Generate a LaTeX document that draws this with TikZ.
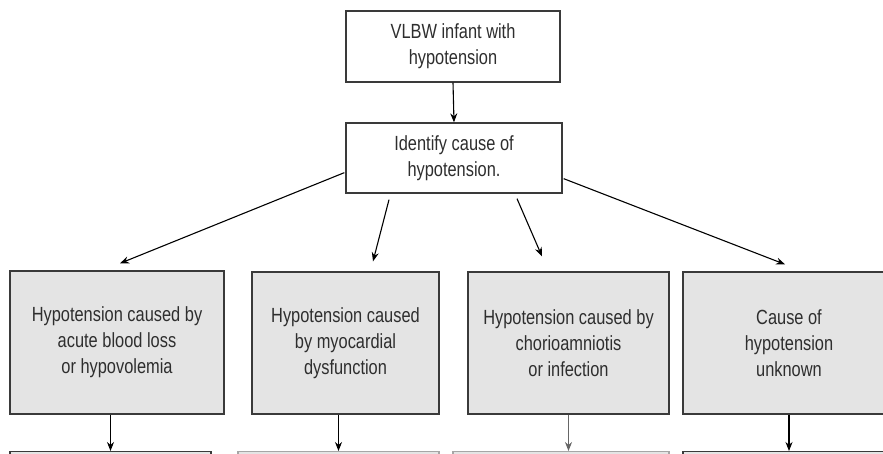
\documentclass[tikz,border=0pt]{standalone}
\usepackage{fontspec}
\setmainfont[FakeStretch=0.8]{Liberation Sans}
\usetikzlibrary{arrows.meta}
\definecolor{boxfill}{HTML}{E4E4E4}
\definecolor{boxline}{HTML}{3A3A3A}
\definecolor{txt}{HTML}{2E2E2E}
\begin{document}
\begin{tikzpicture}[x=1pt,y=-1pt,
  box/.style={draw=boxline,line width=1.3pt,fill=white,inner sep=0pt,align=center,
     text=txt,font=\fontsize{20.5}{26}\selectfont},
  graybox/.style={box,fill=boxfill},
  lowbox/.style={draw=boxline,line width=1.3pt,fill=boxfill,inner sep=0pt,minimum height=40pt,anchor=north},
  lowlight/.style={lowbox,draw=gray!70},
  arr/.style={-{Stealth[length=9pt,width=7pt]},line width=1.1pt,draw=black},
  arrlight/.style={arr,draw=gray!80!black}]
\useasboundingbox (0,0) rectangle (883,453);
\clip (0,0) rectangle (883,453);
\node[box,minimum width=214pt,minimum height=71pt] (top) at (453,46.5) {VLBW infant with\\hypotension};
\node[box,minimum width=216pt,minimum height=70pt] (ident) at (454,158) {Identify cause of\\hypotension.};
\node[graybox,minimum width=214pt,minimum height=143pt] (b1) at (117,342.5) {Hypotension caused by\\acute blood loss\\or hypovolemia};
\node[graybox,minimum width=187pt,minimum height=142pt] (b2) at (345.5,343) {Hypotension caused\\by myocardial\\dysfunction};
\node[graybox,minimum width=201pt,minimum height=142pt] (b3) at (568.5,343) {Hypotension caused by\\chorioamniotis\\or infection};
\node[graybox,minimum width=212pt,minimum height=142pt] (b4) at (789,343) {Cause of\\hypotension\\unknown};
\node[lowbox,minimum width=201pt] (c1) at (110.5,451) {};
\node[lowlight,minimum width=201pt] (c2) at (338.5,451) {};
\node[lowlight,minimum width=216pt] (c3) at (561,451) {};
\node[lowbox,minimum width=212pt] (c4) at (789,451) {};
\draw[arr] (top.south) -- (ident.north);
\draw[arr] ([shift={(-1pt,21pt)}]ident.south west) -- ([shift={(3pt,7pt)}]b1.north);
\draw[arr] ([shift={(-65pt,-6pt)}]ident.south) -- ([shift={(27.5pt,10pt)}]b2.north);
\draw[arr] ([shift={(63pt,-5pt)}]ident.south) -- ([shift={(-26.5pt,15pt)}]b3.north);
\draw[arr] ([shift={(1pt,15pt)}]ident.south east) -- ([shift={(-4pt,7pt)}]b4.north);
\draw[arr] (c1.north |- b1.south) -- (c1.north);
\draw[arr] (b2.south -| c2.north) -- (c2.north);
\draw[arrlight] (b3.south) -- (b3.south |- c3.north);
\draw[arr] (b4.south) -- (b4.south |- c4.north);
\end{tikzpicture}
\end{document}
